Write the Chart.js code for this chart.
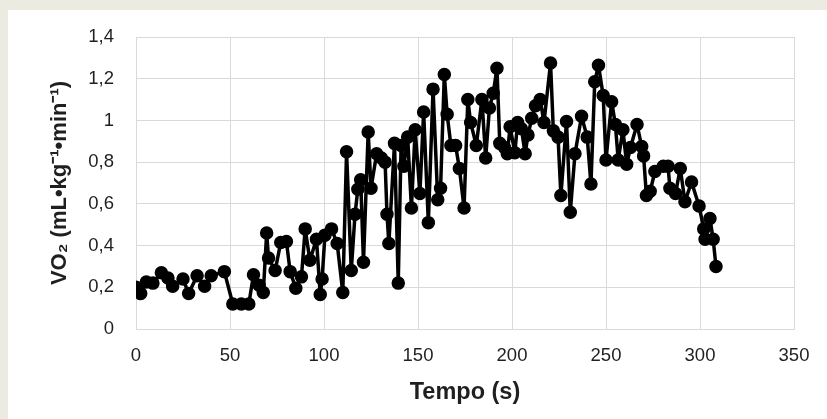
<!DOCTYPE html>
<html>
<head>
<meta charset="utf-8">
<script src="https://cdn.jsdelivr.net/npm/chart.js@4.4.1/dist/chart.umd.min.js"></script>
<style>
  html, body { margin: 0; padding: 0; background: #ecebe2; }
  #wrap { position: absolute; left: 8px; top: 10px; width: 819px; height: 409px; background: #ffffff; }
  canvas { display: block; }
</style>
</head>
<body>
<div id="wrap"><canvas id="c" width="819" height="409"></canvas></div>
<script>
// Time (s)
const times = [0, 2.5, 5.5, 9, 13.5, 17, 19.5, 25, 28, 32.5, 36.5, 40, 47, 51.5, 56, 60, 62.5, 65.5, 67.7, 69.5,
  70.5, 74, 77, 80, 82, 85, 88, 90, 92.5, 96, 98, 99, 100.5, 104, 107, 110, 112, 114.5, 116.5, 118,
  119.5, 121, 123.5, 125, 128, 130.5, 132.5, 133.5, 134.5, 137.5, 139.5, 141, 142.5, 144.5, 146.5, 148.5, 151, 153, 155.5, 158,
  160.5, 162, 164, 165.5, 167.5, 170, 172, 174.5, 176.5, 178, 181, 184, 186, 188, 190, 192, 193.5, 196, 197.5, 199,
  201.5, 203, 205, 207, 208.5, 210.5, 212.5, 215, 217, 220.5, 222, 224.5, 226, 229, 231, 233.5, 237, 240, 242, 244,
  246, 248.5, 250, 253, 255, 256.5, 259, 261, 263, 266.5, 269, 270, 271.5, 273.5, 276, 280.5, 283, 284, 287, 289.5,
  292, 295.5, 299.5, 302, 302.7, 305.3, 307, 308.5];
// VO2 (mL·kg-1·min-1)
const vo2 = [0.20, 0.17, 0.225, 0.22, 0.27, 0.245, 0.205, 0.24, 0.17, 0.255, 0.205, 0.255, 0.275, 0.12, 0.12, 0.12, 0.26, 0.21, 0.175, 0.46,
  0.34, 0.28, 0.415, 0.42, 0.275, 0.195, 0.25, 0.48, 0.33, 0.43, 0.165, 0.24, 0.45, 0.48, 0.41, 0.175, 0.85, 0.28, 0.55, 0.67,
  0.715, 0.32, 0.945, 0.675, 0.84, 0.82, 0.80, 0.55, 0.41, 0.89, 0.22, 0.88, 0.78, 0.92, 0.58, 0.955, 0.65, 1.04, 0.51, 1.15,
  0.62, 0.675, 1.22, 1.03, 0.88, 0.88, 0.77, 0.58, 1.10, 0.99, 0.88, 1.10, 0.82, 1.06, 1.13, 1.25, 0.89, 0.87, 0.84, 0.97,
  0.845, 0.99, 0.96, 0.84, 0.93, 1.01, 1.07, 1.10, 0.99, 1.275, 0.95, 0.92, 0.64, 0.995, 0.56, 0.84, 1.02, 0.92, 0.695, 1.185,
  1.265, 1.12, 0.81, 1.09, 0.98, 0.81, 0.955, 0.79, 0.87, 0.98, 0.875, 0.83, 0.64, 0.66, 0.755, 0.78, 0.78, 0.675, 0.65, 0.77,
  0.61, 0.705, 0.59, 0.48, 0.43, 0.53, 0.43, 0.30];
const xTitle = 'Tempo (s)';
const yTitle = 'VO\u2082 (mL\u2022kg\u207B\u00B9\u2022min\u207B\u00B9)';

const points = times.map((t, i) => ({ x: t, y: vo2[i] }));
const gridColor = '#d9d9d9';
const textColor = '#1f1f1f';

new Chart(document.getElementById('c'), {
  type: 'scatter',
  data: {
    datasets: [{
      data: points,
      showLine: true,
      borderColor: '#000000',
      backgroundColor: '#000000',
      borderWidth: 3.5,
      borderJoinStyle: 'round',
      borderCapStyle: 'round',
      pointRadius: 6,
      pointBorderWidth: 1.5,
      pointBackgroundColor: '#000000',
      pointBorderColor: '#000000',
      tension: 0
    }]
  },
  options: {
    responsive: false,
    animation: false,
    layout: { padding: { left: 0, right: 33, top: 27, bottom: 0 } },
    plugins: { legend: { display: false }, tooltip: { enabled: false } },
    scales: {
      x: {
        type: 'linear', min: 0, max: 350,
        afterFit: (s) => { s.height = 90; },
        grid: { color: gridColor, lineWidth: 1, drawTicks: false },
        border: { color: gridColor },
        ticks: { stepSize: 50, padding: 16, color: textColor, font: { family: 'Liberation Sans, Arial', size: 18.5 } },
        title: { display: true, text: xTitle, color: textColor, padding: { top: 0, bottom: 12 },
                 font: { family: 'Liberation Sans, Arial', size: 23.5, weight: 'bold' } }
      },
      y: {
        type: 'linear', min: 0, max: 1.4,
        afterFit: (s) => { s.width = 128; s.paddingTop = 12; s.paddingBottom = 12; },
        grid: { color: gridColor, lineWidth: 1, drawTicks: false },
        border: { color: gridColor },
        ticks: { stepSize: 0.2, padding: 22, color: textColor,
                 font: { family: 'Liberation Sans, Arial', size: 18.5 },
                 callback: (v) => String(Math.round(v * 10) / 10).replace('.', ',') },
        title: { display: true, text: yTitle, color: textColor, padding: { top: 39, bottom: 0 },
                 font: { family: 'Liberation Sans, Arial', size: 22, weight: 'bold' } }
      }
    }
  }
});
</script>
</body>
</html>
